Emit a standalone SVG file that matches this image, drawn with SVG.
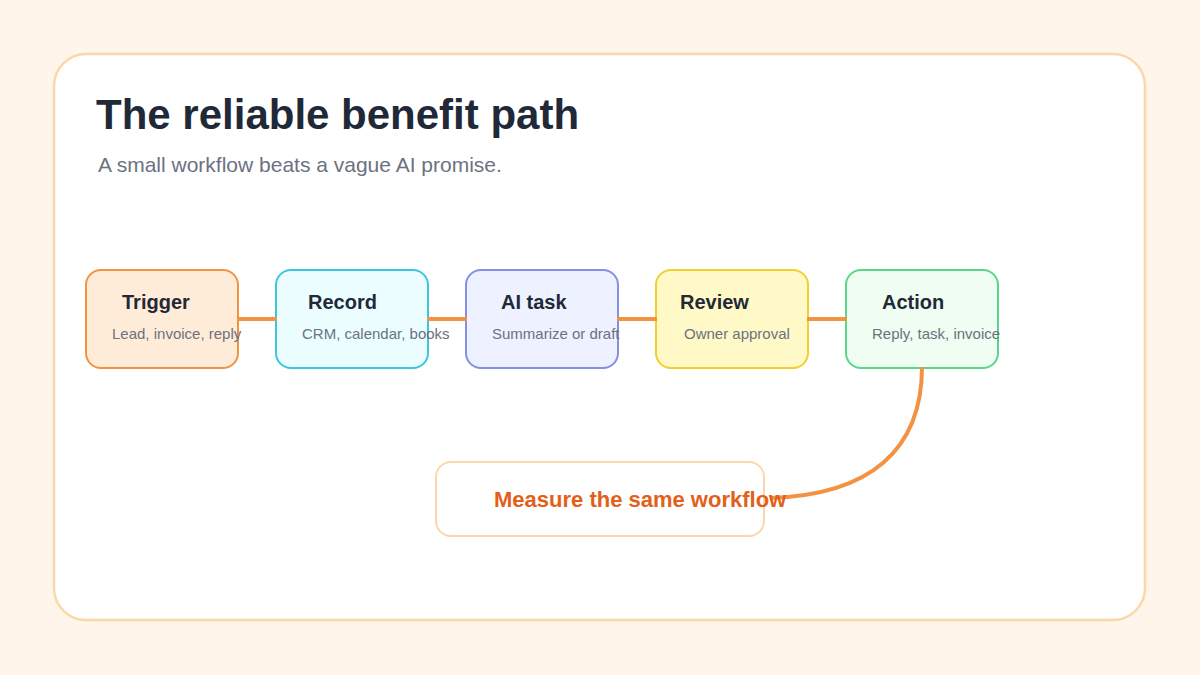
<svg xmlns="http://www.w3.org/2000/svg" width="1200" height="675" viewBox="0 0 1200 675">
<style>
.t{font-family:"Liberation Sans",Arial,sans-serif;font-weight:bold;font-size:20px;fill:#1f2937}
.s{font-family:"Liberation Sans",Arial,sans-serif;font-size:15px;fill:#6b7280}
.c{stroke:#f29344;stroke-width:4;fill:none}
</style>
<rect width="1200" height="675" fill="#fff5ea"/>
<rect x="54" y="54" width="1091" height="566" rx="32" fill="#fff" stroke="#fad8aa" stroke-width="2.5"/>
<text x="96" y="129" font-family="Liberation Sans,Arial,sans-serif" font-weight="bold" font-size="42" fill="#1f2937">The reliable benefit path</text>
<text x="98" y="172" font-family="Liberation Sans,Arial,sans-serif" font-size="21" fill="#6b7280">A small workflow beats a vague AI promise.</text>
<g id="n1"><rect x="86" y="270" width="152" height="98" rx="15" fill="#ffecd8" stroke="#f29344" stroke-width="2"/><text class="t" x="122" y="309">Trigger</text><text class="s" x="112" y="339">Lead, invoice, reply</text></g>
<g id="n2"><rect x="276" y="270" width="152" height="98" rx="15" fill="#ebfdff" stroke="#3cc8dc" stroke-width="2"/><text class="t" x="308" y="309">Record</text><text class="s" x="302" y="339">CRM, calendar, books</text></g>
<g id="n3"><rect x="466" y="270" width="152" height="98" rx="15" fill="#eef1ff" stroke="#8490e0" stroke-width="2"/><text class="t" x="501" y="309">AI task</text><text class="s" x="492" y="339">Summarize or draft</text></g>
<g id="n4"><rect x="656" y="270" width="152" height="98" rx="15" fill="#fff9c8" stroke="#f2cf2c" stroke-width="2"/><text class="t" x="680" y="309">Review</text><text class="s" x="684" y="339">Owner approval</text></g>
<g id="n5"><rect x="846" y="270" width="152" height="98" rx="15" fill="#effdf2" stroke="#5ad68a" stroke-width="2"/><text class="t" x="882" y="309">Action</text><text class="s" x="872" y="339">Reply, task, invoice</text></g>
<g id="n6"><rect x="436" y="462" width="328" height="74" rx="15" fill="#fff" stroke="#fad8aa" stroke-width="2"/></g>
<g id="connectors">
<path class="c" d="M237 319H277M427 319H467M617 319H657M807 319H847"/>
<path class="c" d="M922 367C922 450 870 495 770 498"/>
</g>
<text x="494" y="507" font-family="Liberation Sans,Arial,sans-serif" font-weight="bold" font-size="22" fill="#e2601a">Measure the same workflow</text>
</svg>
